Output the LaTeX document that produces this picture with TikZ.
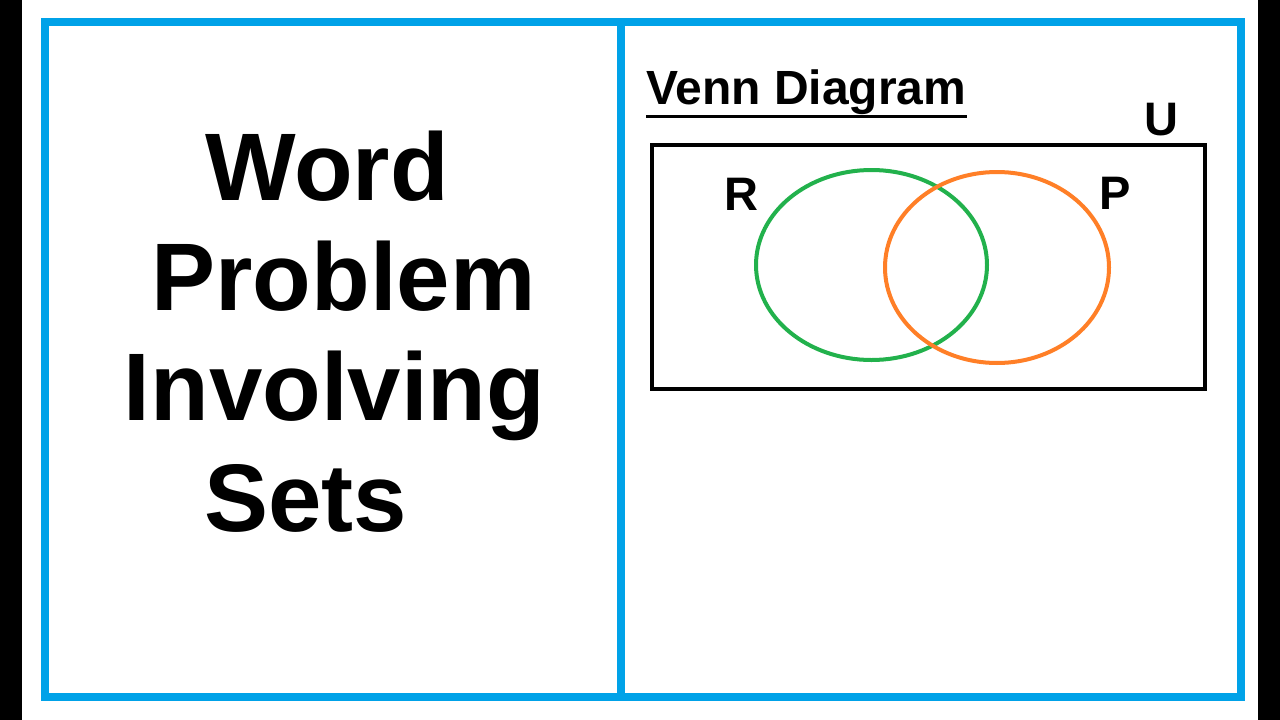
\documentclass[tikz,border=0pt]{standalone}
\usepackage{fontspec}
\setmainfont{Liberation Sans}
\definecolor{frameblue}{RGB}{0,162,232}
\definecolor{setgreen}{RGB}{34,177,76}
\definecolor{setorange}{RGB}{255,127,39}
\tikzset{
  bigword/.style={font=\fontsize{96}{96}\selectfont\bfseries,anchor=base,inner sep=0pt},
  setname/.style={font=\fontsize{47}{47}\selectfont\bfseries,anchor=base,inner sep=0pt},
}
\begin{document}
\begin{tikzpicture}[x=1pt,y=-1pt]
			\useasboundingbox (0,0) rectangle (1280,720);
			\fill[white] (0,0) rectangle (1280,720);

			% Side bars
			\fill[black] (0,0) rectangle (22,720);
			\fill[black] (1258,0) rectangle (1280,720);

			% Frame
			\draw[frameblue,line width=8pt] (45,22) rectangle (1241,697);
			\draw[frameblue,line width=8pt] (620.5,22) -- (620.5,697);

			% Title words
			\node[bigword] (word) at (327,200) {Word};
			\node[bigword] (problem) at (343.5,310) {Problem};
			\node[bigword] (involving) at (334.5,420) {Involving};
			\node[bigword] (sets) at (305.5,531) {Sets};

			% Venn heading
			\node[setname,font=\fontsize{48}{48}\selectfont\bfseries,anchor=base west] (venn) at (646,104) {Venn Diagram};
			\draw[line width=3pt] ([yshift=-2pt]venn.south west) -- ([yshift=-2pt]venn.south east);

			% Universal set
			\draw[line width=4pt] (652,145) rectangle (1205,389);
			\node[setname] (u) at (1161,135) {U};

			% Sets R and P
			\draw[setgreen,line width=4pt] (871.5,265) ellipse [x radius=115.5,y radius=95];
			\draw[setorange,line width=4pt] (997,267.5) ellipse [x radius=112,y radius=95.5];
			\node[setname] (r) at (741.5,210) {R};
			\node[setname] (p) at (1115.5,209) {P};
		\end{tikzpicture}
\end{document}
